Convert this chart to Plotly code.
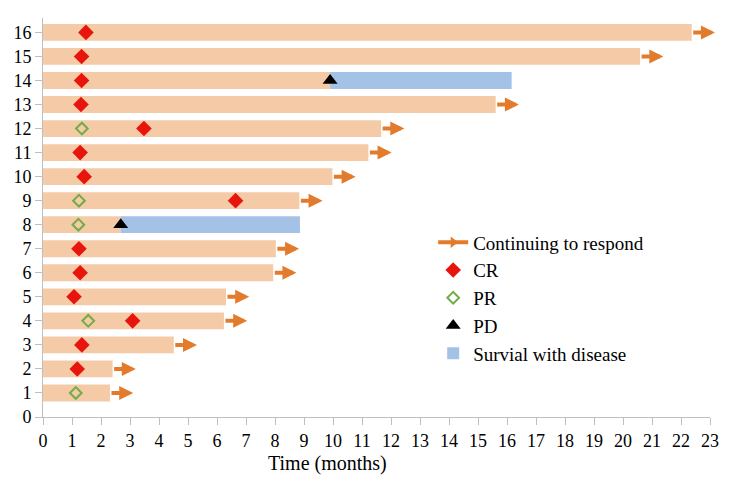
import plotly.graph_objects as go

patients = list(range(1, 17))
end_time = [2.31, 2.40, 4.51, 6.24, 6.31, 7.94, 8.03, 8.86, 8.84, 9.98,
            11.22, 11.66, 15.61, 16.16, 20.59, 22.37]
pd_patients = [8, 14]
pd_time = [2.68, 9.90]
cr_time = [1.18, 1.34, 3.09, 1.07, 1.28, 1.24, 6.64, 1.42, 1.28, 3.48,
           1.31, 1.33, 1.33, 1.48]
cr_patient = [2, 3, 4, 5, 6, 7, 9, 10, 11, 12, 13, 14, 15, 16]
pr_time = [1.13, 1.56, 1.22, 1.24, 1.34]
pr_patient = [1, 4, 8, 9, 12]
arrow_len = 0.8

PEACH = "#F5CBA7"
BLUE = "#A4C2E6"
ORANGE = "#E27C2C"
RED = "#E8150D"
GREEN = "#70AD47"
FONT = "Liberation Serif"

orange_end = []
for p, e in zip(patients, end_time):
    if p in pd_patients:
        orange_end.append(pd_time[pd_patients.index(p)])
    else:
        orange_end.append(e)

blue_base = pd_time
blue_len = [end_time[p - 1] - t for p, t in zip(pd_patients, pd_time)]

fig = go.Figure()
fig.add_trace(go.Bar(y=patients, x=orange_end, base=0, orientation="h",
                     marker=dict(color=PEACH, line_width=0), width=0.7,
                     showlegend=False, hoverinfo="skip"))
fig.add_trace(go.Bar(y=pd_patients, x=blue_len, base=blue_base, orientation="h",
                     marker=dict(color=BLUE, line_width=0), width=0.7,
                     name="Survial with disease", legendgroup="e", legendrank=5))

fig.add_trace(go.Scatter(x=[None], y=[None], mode="lines+markers",
                         line=dict(color=ORANGE, width=4),
                         marker=dict(symbol="triangle-right", size=10, color=ORANGE),
                         name="Continuing to respond", legendgroup="a", legendrank=1))
fig.add_trace(go.Scatter(x=cr_time, y=cr_patient, mode="markers",
                         marker=dict(symbol="diamond", size=12, color=RED),
                         name="CR", legendgroup="b", legendrank=2))
fig.add_trace(go.Scatter(x=pr_time, y=pr_patient, mode="markers",
                         marker=dict(symbol="diamond-open", size=9, color=GREEN,
                                     line=dict(width=2, color=GREEN)),
                         name="PR", legendgroup="c", legendrank=3))
fig.add_trace(go.Scatter(x=pd_time, y=pd_patients, mode="markers",
                         marker=dict(symbol="triangle-up", size=13, color="black"),
                         name="PD", legendgroup="d", legendrank=4))

for p, e in zip(patients, end_time):
    if p in pd_patients:
        continue
    fig.add_annotation(x=e + arrow_len, y=p, ax=e, ay=p, xref="x", yref="y",
                       axref="x", ayref="y", text="", showarrow=True,
                       arrowhead=2, arrowsize=0.7, arrowwidth=4,
                       arrowcolor=ORANGE, standoff=0, startstandoff=0)

fig.add_annotation(text="Time (months)", x=0.427, y=0, xref="paper", yref="paper",
                   xanchor="center", yanchor="middle", yshift=-46, showarrow=False,
                   font=dict(family=FONT, size=20, color="black"))

fig.update_layout(
    width=732, height=470,
    margin=dict(l=35, r=30, t=10, b=61),
    plot_bgcolor="white", paper_bgcolor="white",
    barmode="overlay",
    font=dict(family=FONT, size=17, color="black"),
    legend=dict(x=0.585, y=0.485, xanchor="left", yanchor="top",
                font=dict(family=FONT, size=19, color="black"),
                tracegroupgap=0, bgcolor="rgba(0,0,0,0)", itemwidth=30),
)
fig.update_xaxes(range=[0, 23], dtick=1, tick0=0, showgrid=False, zeroline=False,
                 showline=True, linecolor="#BFBFBF", linewidth=1,
                 ticks="outside", ticklen=7, tickcolor="#BFBFBF", automargin=False,
                 tickfont=dict(family=FONT, size=18))
fig.update_yaxes(range=[0, 16.6], dtick=1, tick0=0, showgrid=False, zeroline=False,
                 showline=True, linecolor="#BFBFBF", linewidth=1, automargin=False,
                 ticks="outside", ticklen=7, tickcolor="#BFBFBF",
                 tickfont=dict(family=FONT, size=18))

fig.write_html("out.html")
